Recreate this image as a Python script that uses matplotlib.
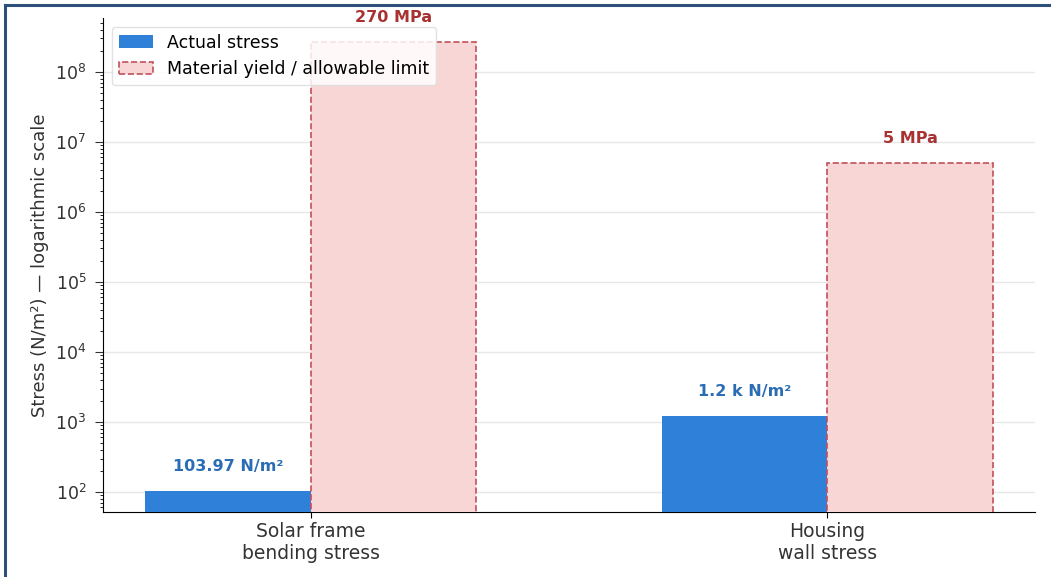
import matplotlib.pyplot as plt
from matplotlib.lines import Line2D
import numpy as np

# data
categories = ['Solar frame\nbending stress', 'Housing\nwall stress']
actual_stress = [103.97, 1200]
limit_stress = [270e6, 5e6]
actual_labels = ['103.97 N/m²', '1.2 k N/m²']
limit_labels = ['270 MPa', '5 MPa']

fig = plt.figure(figsize=(10.51, 5.77), dpi=100)
ax = fig.add_axes([0.098, 0.113, 0.887, 0.856])

x = np.arange(len(categories))
w = 0.32

ax.bar(x - w / 2, actual_stress, w, color='#2f80d8', label='Actual stress', zorder=3)
ax.bar(x + w / 2, limit_stress, w, color='#f9d6d6', edgecolor='#c0505a',
       linestyle='--', linewidth=1.2, label='Material yield / allowable limit', zorder=3)

for xi, v, t in zip(x, actual_stress, actual_labels):
    ax.text(xi - w / 2, v * 1.75, t, ha='center', va='bottom', fontsize=11.5,
            fontweight='bold', color='#2a6db5')
for xi, v, t in zip(x, limit_stress, limit_labels):
    ax.text(xi + w / 2, v * 1.75, t, ha='center', va='bottom', fontsize=11.5,
            fontweight='bold', color='#a83232')

ax.set_yscale('log')
ax.set_ylim(52, 5.9e8)
ax.set_xticks(x)
ax.set_xticklabels(categories, fontsize=13.5, color='#333333')
ax.tick_params(axis='y', which='major', labelsize=12.5, colors='#333333', length=6, pad=6)
ax.tick_params(axis='x', length=4, pad=3)
ax.set_ylabel('Stress (N/m²) — logarithmic scale', fontsize=13, color='#333333')

ax.grid(axis='y', which='major', color='#e8e8e8', linewidth=1, zorder=0)
ax.spines['top'].set_visible(False)
ax.spines['right'].set_visible(False)

ax.legend(loc='upper left', fontsize=12.5, framealpha=0.85, edgecolor='#dddddd',
          bbox_to_anchor=(0.0, 1.0))

# frame lines of the screenshot
fig.add_artist(Line2D([0.005, 1], [0.992, 0.992], color='#2c4f7c', linewidth=2.2))
fig.add_artist(Line2D([0.005, 0.005], [0, 0.992], color='#2c4f7c', linewidth=2.2))

fig.savefig('out.png', dpi=100)
